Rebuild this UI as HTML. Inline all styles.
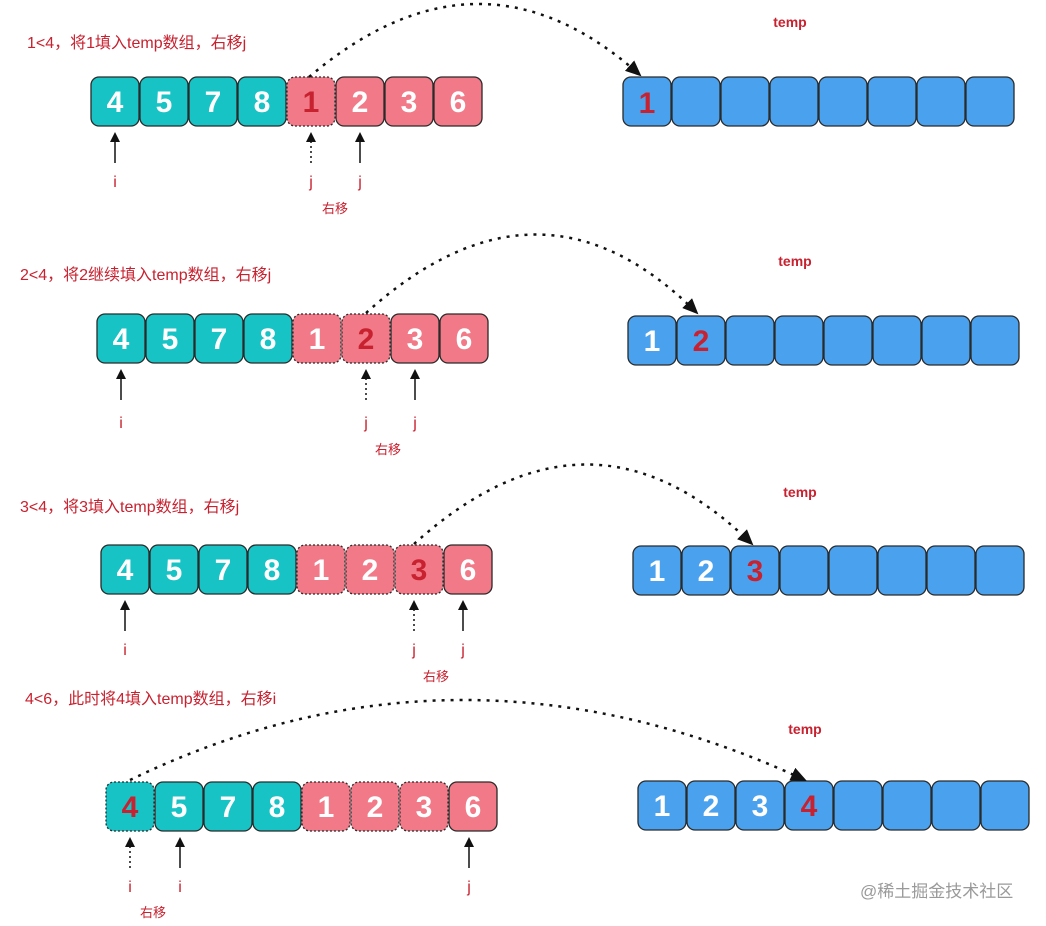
<!DOCTYPE html>
<html><head><meta charset="utf-8"><style>
html,body{margin:0;padding:0;background:#fff;}
svg{display:block;font-family:"Liberation Sans","Noto Sans CJK SC",sans-serif;}
.d{font-size:30px;font-weight:bold;text-anchor:middle;fill:#fff;}
.r{fill:#c8212f;}
.t{font-size:16px;fill:#c8212f;}
.tl{font-size:14px;font-weight:bold;fill:#c8212f;text-anchor:middle;}
.p{font-size:16px;fill:#c8212f;text-anchor:middle;}
.m{font-size:13px;fill:#c8212f;text-anchor:middle;}
.tc{fill:#17c3c4;stroke:#2a2a2a;stroke-width:1.3;}
.pk{fill:#f27987;stroke:#2a2a2a;stroke-width:1.3;}
.bl{fill:#4aa2ee;stroke:#2a2a2a;stroke-width:1.3;}
.dt{stroke-dasharray:2 2;}
.cv{fill:none;stroke:#111;stroke-width:2.5;stroke-dasharray:3 6;}
.ar{stroke:#111;stroke-width:1.5;}
.ad{stroke:#111;stroke-width:1.5;stroke-dasharray:2 3;}
</style></head><body>
<svg width="1046" height="926" viewBox="0 0 1046 926">
<defs>
<marker id="ah" markerWidth="10" markerHeight="10" refX="8" refY="5" orient="auto" markerUnits="userSpaceOnUse"><path d="M0,0 L10,5 L0,10 z" fill="#111"/></marker>
<marker id="ah2" markerWidth="16" markerHeight="14" refX="14" refY="7" orient="auto" markerUnits="userSpaceOnUse"><path d="M0,0 L16,7 L0,14 z" fill="#111"/></marker>
</defs>

<!-- ROW 1 -->
<text class="t" x="27" y="48">1&lt;4，将1填入temp数组，右移j</text>
<text class="tl" x="790" y="27">temp</text>
<g>
<rect class="tc" x="91" y="77" width="48" height="49" rx="8"/><text class="d" x="115" y="112">4</text>
<rect class="tc" x="140" y="77" width="48" height="49" rx="8"/><text class="d" x="164" y="112">5</text>
<rect class="tc" x="189" y="77" width="48" height="49" rx="8"/><text class="d" x="213" y="112">7</text>
<rect class="tc" x="238" y="77" width="48" height="49" rx="8"/><text class="d" x="262" y="112">8</text>
<rect class="pk dt" x="287" y="77" width="48" height="49" rx="8"/><text class="d r" x="311" y="112">1</text>
<rect class="pk" x="336" y="77" width="48" height="49" rx="8"/><text class="d" x="360" y="112">2</text>
<rect class="pk" x="385" y="77" width="48" height="49" rx="8"/><text class="d" x="409" y="112">3</text>
<rect class="pk" x="434" y="77" width="48" height="49" rx="8"/><text class="d" x="458" y="112">6</text>
</g>
<g>
<rect class="bl" x="623" y="77" width="48" height="49" rx="8"/><text class="d r" x="647" y="113">1</text>
<rect class="bl" x="672" y="77" width="48" height="49" rx="8"/>
<rect class="bl" x="721" y="77" width="48" height="49" rx="8"/>
<rect class="bl" x="770" y="77" width="48" height="49" rx="8"/>
<rect class="bl" x="819" y="77" width="48" height="49" rx="8"/>
<rect class="bl" x="868" y="77" width="48" height="49" rx="8"/>
<rect class="bl" x="917" y="77" width="48" height="49" rx="8"/>
<rect class="bl" x="966" y="77" width="48" height="49" rx="8"/>
</g>
<line class="ar" x1="115" y1="163" x2="115" y2="134" marker-end="url(#ah)"/>
<line class="ad" x1="311" y1="163" x2="311" y2="134" marker-end="url(#ah)"/>
<line class="ar" x1="360" y1="163" x2="360" y2="134" marker-end="url(#ah)"/>
<text class="p" x="115" y="187">i</text>
<text class="p" x="311" y="187">j</text>
<text class="p" x="360" y="187">j</text>
<text class="m" x="335" y="213">右移</text>
<path class="cv" d="M309,77 Q480,-68 640,75" marker-end="url(#ah2)"/>

<!-- ROW 2 -->
<text class="t" x="20" y="280">2&lt;4，将2继续填入temp数组，右移j</text>
<text class="tl" x="795" y="266">temp</text>
<g>
<rect class="tc" x="97" y="314" width="48" height="49" rx="8"/><text class="d" x="121" y="349">4</text>
<rect class="tc" x="146" y="314" width="48" height="49" rx="8"/><text class="d" x="170" y="349">5</text>
<rect class="tc" x="195" y="314" width="48" height="49" rx="8"/><text class="d" x="219" y="349">7</text>
<rect class="tc" x="244" y="314" width="48" height="49" rx="8"/><text class="d" x="268" y="349">8</text>
<rect class="pk dt" x="293" y="314" width="48" height="49" rx="8"/><text class="d" x="317" y="349">1</text>
<rect class="pk dt" x="342" y="314" width="48" height="49" rx="8"/><text class="d r" x="366" y="349">2</text>
<rect class="pk" x="391" y="314" width="48" height="49" rx="8"/><text class="d" x="415" y="349">3</text>
<rect class="pk" x="440" y="314" width="48" height="49" rx="8"/><text class="d" x="464" y="349">6</text>
</g>
<g>
<rect class="bl" x="628" y="316" width="48" height="49" rx="8"/><text class="d" x="652" y="351">1</text>
<rect class="bl" x="677" y="316" width="48" height="49" rx="8"/><text class="d r" x="701" y="351">2</text>
<rect class="bl" x="726" y="316" width="48" height="49" rx="8"/>
<rect class="bl" x="775" y="316" width="48" height="49" rx="8"/>
<rect class="bl" x="824" y="316" width="48" height="49" rx="8"/>
<rect class="bl" x="873" y="316" width="48" height="49" rx="8"/>
<rect class="bl" x="922" y="316" width="48" height="49" rx="8"/>
<rect class="bl" x="971" y="316" width="48" height="49" rx="8"/>
</g>
<line class="ar" x1="121" y1="400" x2="121" y2="371" marker-end="url(#ah)"/>
<line class="ad" x1="366" y1="400" x2="366" y2="371" marker-end="url(#ah)"/>
<line class="ar" x1="415" y1="400" x2="415" y2="371" marker-end="url(#ah)"/>
<text class="p" x="121" y="428">i</text>
<text class="p" x="366" y="428">j</text>
<text class="p" x="415" y="428">j</text>
<text class="m" x="388" y="454">右移</text>
<path class="cv" d="M366,313 Q540,156 697,313" marker-end="url(#ah2)"/>

<!-- ROW 3 -->
<text class="t" x="20" y="512">3&lt;4，将3填入temp数组，右移j</text>
<text class="tl" x="800" y="497">temp</text>
<g>
<rect class="tc" x="101" y="545" width="48" height="49" rx="8"/><text class="d" x="125" y="580">4</text>
<rect class="tc" x="150" y="545" width="48" height="49" rx="8"/><text class="d" x="174" y="580">5</text>
<rect class="tc" x="199" y="545" width="48" height="49" rx="8"/><text class="d" x="223" y="580">7</text>
<rect class="tc" x="248" y="545" width="48" height="49" rx="8"/><text class="d" x="272" y="580">8</text>
<rect class="pk dt" x="297" y="545" width="48" height="49" rx="8"/><text class="d" x="321" y="580">1</text>
<rect class="pk dt" x="346" y="545" width="48" height="49" rx="8"/><text class="d" x="370" y="580">2</text>
<rect class="pk dt" x="395" y="545" width="48" height="49" rx="8"/><text class="d r" x="419" y="580">3</text>
<rect class="pk" x="444" y="545" width="48" height="49" rx="8"/><text class="d" x="468" y="580">6</text>
</g>
<g>
<rect class="bl" x="633" y="546" width="48" height="49" rx="8"/><text class="d" x="657" y="581">1</text>
<rect class="bl" x="682" y="546" width="48" height="49" rx="8"/><text class="d" x="706" y="581">2</text>
<rect class="bl" x="731" y="546" width="48" height="49" rx="8"/><text class="d r" x="755" y="581">3</text>
<rect class="bl" x="780" y="546" width="48" height="49" rx="8"/>
<rect class="bl" x="829" y="546" width="48" height="49" rx="8"/>
<rect class="bl" x="878" y="546" width="48" height="49" rx="8"/>
<rect class="bl" x="927" y="546" width="48" height="49" rx="8"/>
<rect class="bl" x="976" y="546" width="48" height="49" rx="8"/>
</g>
<line class="ar" x1="125" y1="631" x2="125" y2="602" marker-end="url(#ah)"/>
<line class="ad" x1="414" y1="631" x2="414" y2="602" marker-end="url(#ah)"/>
<line class="ar" x1="463" y1="631" x2="463" y2="602" marker-end="url(#ah)"/>
<text class="p" x="125" y="655">i</text>
<text class="p" x="414" y="655">j</text>
<text class="p" x="463" y="655">j</text>
<text class="m" x="436" y="681">右移</text>
<path class="cv" d="M414,544 Q590,385 752,544" marker-end="url(#ah2)"/>

<!-- ROW 4 -->
<text class="t" x="25" y="704">4&lt;6，此时将4填入temp数组，右移i</text>
<text class="tl" x="805" y="734">temp</text>
<g>
<rect class="tc dt" x="106" y="782" width="48" height="49" rx="8"/><text class="d r" x="130" y="817">4</text>
<rect class="tc" x="155" y="782" width="48" height="49" rx="8"/><text class="d" x="179" y="817">5</text>
<rect class="tc" x="204" y="782" width="48" height="49" rx="8"/><text class="d" x="228" y="817">7</text>
<rect class="tc" x="253" y="782" width="48" height="49" rx="8"/><text class="d" x="277" y="817">8</text>
<rect class="pk dt" x="302" y="782" width="48" height="49" rx="8"/><text class="d" x="326" y="817">1</text>
<rect class="pk dt" x="351" y="782" width="48" height="49" rx="8"/><text class="d" x="375" y="817">2</text>
<rect class="pk dt" x="400" y="782" width="48" height="49" rx="8"/><text class="d" x="424" y="817">3</text>
<rect class="pk" x="449" y="782" width="48" height="49" rx="8"/><text class="d" x="473" y="817">6</text>
</g>
<g>
<rect class="bl" x="638" y="781" width="48" height="49" rx="8"/><text class="d" x="662" y="816">1</text>
<rect class="bl" x="687" y="781" width="48" height="49" rx="8"/><text class="d" x="711" y="816">2</text>
<rect class="bl" x="736" y="781" width="48" height="49" rx="8"/><text class="d" x="760" y="816">3</text>
<rect class="bl" x="785" y="781" width="48" height="49" rx="8"/><text class="d r" x="809" y="816">4</text>
<rect class="bl" x="834" y="781" width="48" height="49" rx="8"/>
<rect class="bl" x="883" y="781" width="48" height="49" rx="8"/>
<rect class="bl" x="932" y="781" width="48" height="49" rx="8"/>
<rect class="bl" x="981" y="781" width="48" height="49" rx="8"/>
</g>
<line class="ad" x1="130" y1="868" x2="130" y2="839" marker-end="url(#ah)"/>
<line class="ar" x1="180" y1="868" x2="180" y2="839" marker-end="url(#ah)"/>
<line class="ar" x1="469" y1="868" x2="469" y2="839" marker-end="url(#ah)"/>
<text class="p" x="130" y="892">i</text>
<text class="p" x="180" y="892">i</text>
<text class="p" x="469" y="892">j</text>
<text class="m" x="153" y="917">右移</text>
<path class="cv" d="M130,780 Q460,620 805,780" marker-end="url(#ah2)"/>

<text x="860" y="897" style="font-size:17px;fill:#9a9a9a;">@稀土掘金技术社区</text>
</svg>
</body></html>
